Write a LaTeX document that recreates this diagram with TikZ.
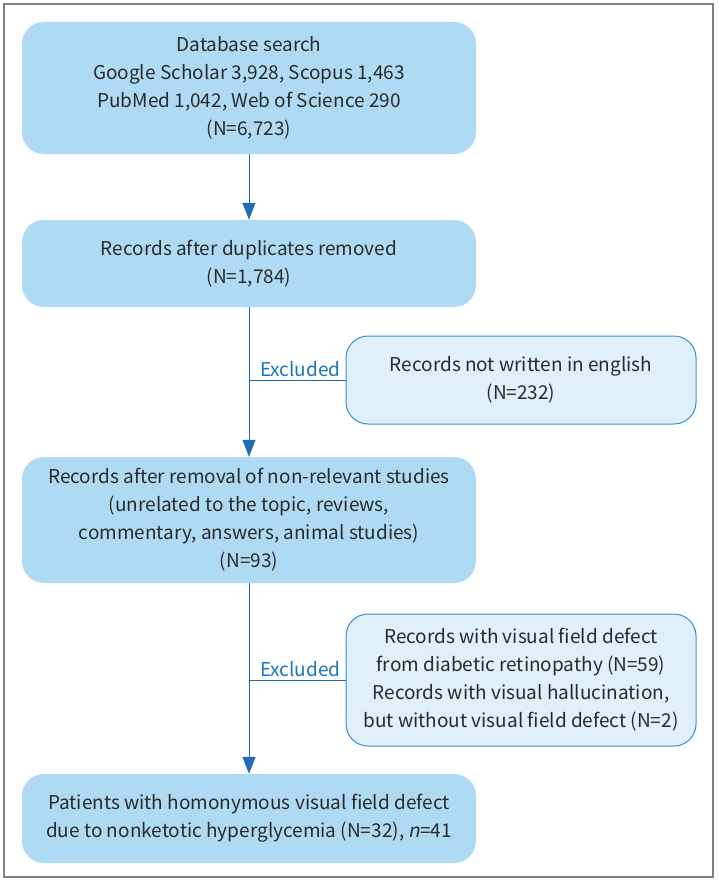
\documentclass[tikz,border=0pt]{standalone}
\usepackage{fontspec}
\setmainfont{Noto Sans CJK KR}[ItalicFont={Noto Sans CJK KR},ItalicFeatures={FakeSlant=0.2}]
\usetikzlibrary{arrows.meta}
\definecolor{mainfill}{HTML}{AEDBF3}
\definecolor{sidefill}{HTML}{DFF0FA}
\definecolor{sideline}{HTML}{3A8DD0}
\definecolor{arrowc}{HTML}{1F6EB4}
\definecolor{txt}{HTML}{2A2A2A}
\definecolor{exc}{HTML}{1B75BB}
\definecolor{framec}{HTML}{808080}
\begin{document}
\begin{tikzpicture}[x=1pt,y=-1pt,
  mainbox/.style={fill=mainfill, rounded corners=22pt, minimum width=454pt, align=center, text=txt, font=\fontsize{19}{28}\selectfont, inner sep=0pt},
  sidebox/.style={fill=sidefill, draw=sideline, line width=1pt, rounded corners=22pt, minimum width=350pt, align=center, text=txt, font=\fontsize{19}{28}\selectfont, inner sep=0pt},
  flow/.style={draw=arrowc, line width=1pt, -{Triangle[width=13pt,length=17pt]}},
  branch/.style={draw=arrowc, line width=1pt},
  exclabel/.style={text=exc, font=\fontsize{19}{24}\selectfont, anchor=south west, inner sep=0pt}
]
\useasboundingbox (0,0) rectangle (718,883);
\draw[framec, line width=1.5pt] (4,4) rectangle (713,877);

\node[mainbox, minimum height=132pt] (b1) at (249,88) {Database search\\Google Scholar 3,928, Scopus 1,463\\PubMed 1,042, Web of Science 290\\(N=6,723)};
\node[mainbox, minimum height=87pt] (b2) at (249,263.5) {Records after duplicates removed\\(N=1,784)};
\node[mainbox, minimum height=126pt] (b3) at (249,520) {Records after removal of non-relevant studies\\(unrelated to the topic, reviews,\\commentary, answers, animal studies)\\(N=93)};
\node[mainbox, minimum height=89pt] (b4) at (249,818.5) {Patients with homonymous visual field defect\\due to nonketotic hyperglycemia (N=32), \textit{n}=41};

\node[sidebox, minimum height=88pt] (s1) at (521,380) {Records not written in english\\(N=232)};
\node[sidebox, minimum height=132pt] (s2) at (521,680) {Records with visual field defect\\from diabetic retinopathy (N=59)\\Records with visual hallucination,\\but without visual field defect (N=2)};

\draw[flow] (b1) -- (b2);
\draw[flow] (b2) -- (b3);
\draw[flow] (b3) -- (b4);

\coordinate (j1) at (249,380);
\coordinate (j2) at (249,680);
\draw[branch] (j1) -- (s1.west);
\draw[branch] (j2) -- (s2.west);
\node[exclabel] (e1) at (260,377) {Excluded};
\node[exclabel] (e2) at (260,677) {Excluded};
\end{tikzpicture}
\end{document}
